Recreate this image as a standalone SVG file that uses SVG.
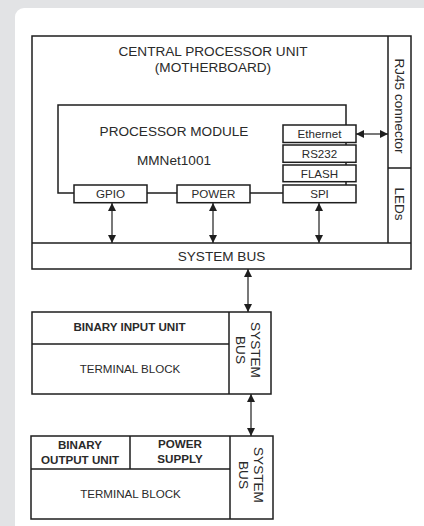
<svg xmlns="http://www.w3.org/2000/svg" width="424" height="526" viewBox="0 0 424 526">
<style>
.box{fill:#fff;stroke:#1e1e1e;stroke-width:1.5}
.ln{fill:none;stroke:#1e1e1e;stroke-width:1.5}
.t{font-family:"Liberation Sans",Arial,sans-serif;fill:#2a2a2a;text-anchor:middle}
.l{font-size:13.6px}
.s{font-size:11.6px}
.b{font-size:11.6px;font-weight:bold}
.ar{fill:none;stroke:#1e1e1e;stroke-width:1.2;marker-start:url(#ah);marker-end:url(#ah)}
</style>
<defs>
<marker id="ah" viewBox="0 0 10 10" refX="10" refY="5" markerWidth="9" markerHeight="8" markerUnits="userSpaceOnUse" orient="auto-start-reverse">
<path d="M0,0 L10,5 L0,10 z" fill="#1e1e1e"/>
</marker>
</defs>
<rect width="424" height="526" fill="#e2e3e5"/>
<rect x="15" y="8" width="420" height="530" rx="9" fill="#fff"/>

<g id="cpu">
<rect class="box" x="32" y="36" width="379" height="233"/>
<text class="t l" x="213" y="56">CENTRAL PROCESSOR UNIT</text>
<text class="t l" x="213" y="72">(MOTHERBOARD)</text>
</g>
<g id="rj45">
<path class="ln" d="M388,36 V243 M388,168 H411"/>
<text class="t l" transform="translate(394.5,106) rotate(90)">RJ45 connector</text>
</g>
<g id="leds">
<text class="t l" transform="translate(394.5,204) rotate(90)">LEDs</text>
</g>
<g id="system-bus">
<path class="ln" d="M32,243 H411"/>
<text class="t l" x="221.5" y="261">SYSTEM BUS</text>
</g>
<g id="processor-module">
<path class="ln" d="M74,193 H58 V105 H346 V186"/>
<text class="t l" x="174" y="136">PROCESSOR MODULE</text>
<text class="t l" x="174" y="165">MMNet1001</text>
</g>
<g id="ethernet"><rect class="box" x="283" y="125" width="73" height="17.5"/><text class="t s" x="319.5" y="138">Ethernet</text></g>
<g id="rs232"><rect class="box" x="283" y="145" width="73" height="17.3"/><text class="t s" x="319.5" y="158">RS232</text></g>
<g id="flash"><rect class="box" x="283" y="165" width="73" height="16.7"/><text class="t s" x="319.5" y="178">FLASH</text></g>
<g id="spi"><rect class="box" x="283" y="185" width="73" height="17.7"/><text class="t s" x="319.5" y="198">SPI</text></g>
<g id="gpio"><rect class="box" x="74" y="185" width="73" height="17.7"/><text class="t s" x="110.5" y="198">GPIO</text></g>
<g id="power"><rect class="box" x="177" y="185" width="73" height="17.7"/><text class="t s" x="213.5" y="198">POWER</text></g>

<g id="binary-input-unit">
<rect class="box" x="32" y="312" width="239" height="82"/>
<path class="ln" d="M229,312 V394 M32,344 H229"/>
<text class="t b" x="129.5" y="331">BINARY INPUT UNIT</text>
<text class="t s" x="130" y="373">TERMINAL BLOCK</text>
<text class="t l" transform="translate(251,350) rotate(90)">SYSTEM</text>
<text class="t l" transform="translate(235.5,350) rotate(90)">BUS</text>
</g>

<g id="binary-output-unit">
<rect class="box" x="31" y="436" width="242" height="83"/>
<path class="ln" d="M230,436 V519 M31,469 H230 M130,436 V469"/>
<text class="t b" x="80" y="449">BINARY</text>
<text class="t b" x="80" y="464">OUTPUT UNIT</text>
<text class="t b" x="180" y="448">POWER</text>
<text class="t b" x="180" y="463">SUPPLY</text>
<text class="t s" x="130.5" y="498">TERMINAL BLOCK</text>
<text class="t l" transform="translate(254,475) rotate(90)">SYSTEM</text>
<text class="t l" transform="translate(238.5,475) rotate(90)">BUS</text>
</g>

<g id="connectors">
<path class="ln" d="M147,193 H177 M250,193 H283"/>
<line class="ar" x1="356" y1="134" x2="388" y2="134"/>
<line class="ar" x1="112" y1="203" x2="112" y2="243"/>
<line class="ar" x1="213" y1="203" x2="213" y2="243"/>
<line class="ar" x1="319" y1="203" x2="319" y2="243"/>
<line class="ar" x1="248" y1="269" x2="248" y2="312"/>
<line class="ar" x1="251" y1="394" x2="251" y2="436"/>
</g>
</svg>
